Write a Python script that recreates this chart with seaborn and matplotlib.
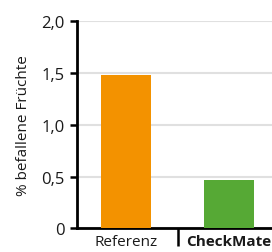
import pandas as pd
import matplotlib.pyplot as plt
import seaborn as sns
from matplotlib.ticker import FixedLocator

# Daten
kategorien = ['Referenz', 'CheckMate']
befall = [1.48, 0.47]
farben = ['#F39200', '#56A935']
yticks = [0, 0.5, 1.0, 1.5, 2.0]
ytick_labels = ['0', '0,5', '1,0', '1,5', '2,0']

df = pd.DataFrame({'Kategorie': kategorien, 'Befall': befall})

sns.set_theme(style="white")
plt.rcParams['font.family'] = ['Open Sans', 'DejaVu Sans']

fig = plt.figure(figsize=(2.72, 2.53), dpi=100)
ax = fig.add_axes([0.283, 0.093, 0.717, 0.82])

sns.barplot(data=df, x='Kategorie', y='Befall', hue='Kategorie',
            palette=farben, saturation=1, width=0.485, linewidth=0,
            ax=ax, legend=False, zorder=3)

ax.set_ylim(0, 2.0)
ax.set_xlim(-0.476, 1.417)
ax.set_yticks(yticks)
ax.set_yticklabels(ytick_labels, fontsize=12, color='#1a1a1a')
ax.yaxis.grid(True, color='#e0e0e0', linewidth=1.5, zorder=0)
ax.set_axisbelow(True)

for s in ['top', 'right']:
    ax.spines[s].set_visible(False)
for s in ['left', 'bottom']:
    ax.spines[s].set_color('black')
    ax.spines[s].set_linewidth(2)

ax.tick_params(axis='y', direction='out', length=5, width=1.8, color='black', pad=4, left=True)
ax.tick_params(axis='x', which='major', length=0, pad=4)
ax.xaxis.set_minor_locator(FixedLocator([0.5]))
ax.tick_params(axis='x', which='minor', direction='out', length=13, width=1.8, color='black', bottom=True)

ax.set_xticks([0, 1])
ax.set_xticklabels(kategorien, fontsize=11, color='#1a1a1a')
ax.get_xticklabels()[1].set_fontweight('bold')

ax.set_xlabel('')
ax.set_ylabel('% befallene Früchte', fontsize=11, color='#1a1a1a', labelpad=7)

plt.savefig('out.png', dpi=100)
